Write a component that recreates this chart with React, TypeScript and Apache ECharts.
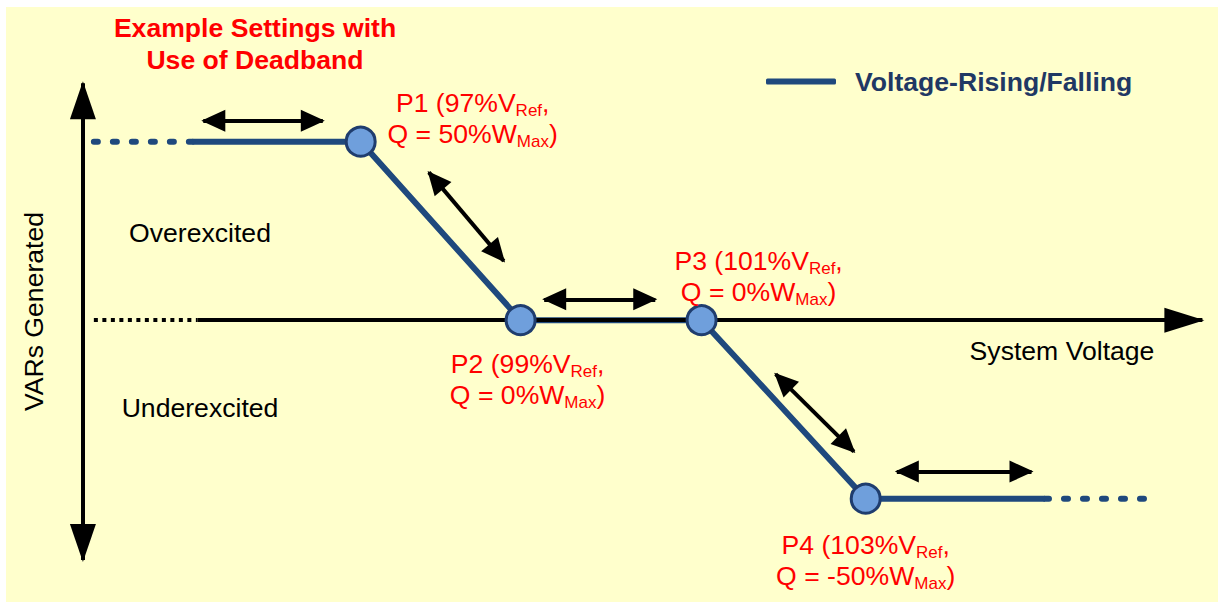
import React, { useEffect, useRef } from 'react';
import * as echarts from 'echarts';

// ---------- data ----------
// Volt-var curve points
const pointNames = ['P1', 'P2', 'P3', 'P4'];
const pointVRef = [97, 99, 101, 103]; // % VRef as labelled
const pointX = [97, 98.9, 101.05, 103]; // position along the voltage axis as drawn
const pointQ = [50, 0, 0, -50]; // Q in % WMax

// curve extensions (voltage positions)
const leadDashX = [93.83, 95.0];
const tailSolidEndX = 105.13;
const tailDashEndX = 106.42;

// axes (in chart units)
const xAxisDottedX = [93.83, 95.06];
const xAxisSolidX = [95.06, 107.0];
const yAxisX = 93.7;
const yAxisTipsY = [66.4, -67.2];

// dead-band double arrows: [from, to]
const deadbandArrows: number[][][] = [
  [[95.13, 55.9], [96.55, 55.9]],
  [[97.81, 41.4], [98.7, 16.6]],
  [[99.18, 5.85], [100.5, 5.85]],
  [[101.93, -15.1], [102.86, -36.8]],
  [[103.37, -42.4], [104.97, -42.4]],
];

const legendName = 'Voltage-Rising/Falling';

// ---------- styles ----------
const FONT = '"Liberation Sans", Arial, Helvetica, sans-serif';
const FS = 26.6;
const CURVE = '#1F497D';
const MARKER_FILL = '#6F9FDC';
const MARKER_BORDER = '#1F3D6E';
const RED = '#FF0000';
const LABEL_OFFSETS = [
  [112, -23],
  [7, 59],
  [57, -43.5],
  [0, 62],
];

const arrowEnd = (coord: number[], size: number[]) => ({
  coord,
  symbol: 'triangle',
  symbolSize: size,
  symbolOffset: [0, size[1] / 2 - 2],
});
const plainEnd = (coord: number[]) => ({ coord, symbol: 'none' });

function buildOption() {
  const solidData: number[][] = [[leadDashX[1], pointQ[0]]];
  pointX.forEach((x, i) => solidData.push([x, pointQ[i]]));
  solidData.push([tailSolidEndX, pointQ[pointQ.length - 1]]);

  const leadDash = [
    [leadDashX[0], pointQ[0]],
    [leadDashX[1], pointQ[0]],
  ];
  const tailDash = [
    [tailSolidEndX, pointQ[pointQ.length - 1]],
    [tailDashEndX, pointQ[pointQ.length - 1]],
  ];

  const labelText = (i: number) =>
    `{n|${pointNames[i]} (${pointVRef[i]}%V}{s|Ref}{n|,}\n{n|Q = ${pointQ[i]}%W}{s|Max}{n|)}`;

  const pointData = pointX.map((x, i) => ({
    value: [x, pointQ[i]],
    label: {
      show: true,
      position: 'inside',
      offset: LABEL_OFFSETS[i],
      align: 'center',
      verticalAlign: 'middle',
      formatter: labelText(i),
      rich: {
        n: { fontSize: FS, color: RED, fontFamily: FONT, lineHeight: 31 },
        s: { fontSize: 17, color: RED, fontFamily: FONT, lineHeight: 14, padding: [15, 0, 0, 0] },
      },
    },
  }));

  const axisStyle = { color: '#000', width: 4, type: 'solid' };
  const markLineData: any[] = [
    [
      { ...plainEnd([xAxisDottedX[0], 0]), lineStyle: { color: '#000', width: 4, type: [4, 4.5] } },
      plainEnd([xAxisDottedX[1], 0]),
    ],
    [
      { ...plainEnd([xAxisSolidX[0], 0]), lineStyle: axisStyle },
      arrowEnd([xAxisSolidX[1], 0], [25, 40]),
    ],
    [
      { ...arrowEnd([yAxisX, yAxisTipsY[0]], [26, 38]), lineStyle: axisStyle },
      arrowEnd([yAxisX, yAxisTipsY[1]], [26, 38]),
    ],
    ...deadbandArrows.map((a) => [
      { ...arrowEnd(a[0], [22, 24]), lineStyle: { color: '#000', width: 4, type: 'solid' } },
      arrowEnd(a[1], [22, 24]),
    ]),
  ];

  return {
    animation: false,
    textStyle: { fontFamily: FONT },
    grid: { left: 24, right: 15.62, top: 34.6, bottom: 31.9 },
    xAxis: { type: 'value', min: 93, max: 107, show: false },
    yAxis: { type: 'value', min: -70, max: 80, show: false },
    legend: {
      data: [{ name: legendName, icon: 'roundRect' }],
      left: 766,
      top: 68,
      padding: 0,
      itemWidth: 70,
      itemHeight: 6,
      selectedMode: false,
      textStyle: {
        fontSize: FS,
        fontWeight: 'bold',
        color: '#1F3864',
        fontFamily: FONT,
        padding: [0, 0, 0, 14],
      },
    },
    graphic: [
      {
        type: 'rect',
        z: -10,
        silent: true,
        shape: { x: 6, y: 7, width: 1212, height: 595 },
        style: { fill: '#FFFFCC' },
      },
      {
        type: 'text',
        z: 10,
        x: 255,
        y: 44.2,
        style: {
          text: 'Example Settings with\nUse of Deadband',
          fill: RED,
          font: `bold ${FS}px ${FONT}`,
          lineHeight: 31.7,
          align: 'center',
          verticalAlign: 'middle',
        },
      },
      {
        type: 'text',
        z: 10,
        x: 200,
        y: 233,
        style: { text: 'Overexcited', fill: '#000', font: `${FS}px ${FONT}`, align: 'center', verticalAlign: 'middle' },
      },
      {
        type: 'text',
        z: 10,
        x: 200,
        y: 408,
        style: { text: 'Underexcited', fill: '#000', font: `${FS}px ${FONT}`, align: 'center', verticalAlign: 'middle' },
      },
      {
        type: 'text',
        z: 10,
        x: 1062,
        y: 351,
        style: { text: 'System Voltage', fill: '#000', font: `${FS}px ${FONT}`, align: 'center', verticalAlign: 'middle' },
      },
      {
        type: 'text',
        z: 10,
        x: 34,
        y: 311.5,
        rotation: Math.PI / 2,
        style: { text: 'VARs Generated', fill: '#000', font: `${FS}px ${FONT}`, align: 'center', verticalAlign: 'middle' },
      },
    ],
    series: [
      {
        type: 'line',
        name: 'axes',
        data: [],
        silent: true,
        z: 2,
        markLine: {
          silent: true,
          animation: false,
          label: { show: false },
          emphasis: { disabled: true },
          lineStyle: { color: '#000', width: 4, type: 'solid' },
          data: markLineData,
        },
      },
      {
        type: 'line',
        name: legendName,
        data: solidData,
        symbol: 'none',
        silent: true,
        z: 3,
        itemStyle: { color: CURVE },
        lineStyle: { color: CURVE, width: 6, join: 'round' },
      },
      {
        type: 'line',
        name: 'leadDash',
        data: leadDash,
        symbol: 'none',
        silent: true,
        z: 3,
        lineStyle: { color: CURVE, width: 6, type: [4, 15], cap: 'round' },
      },
      {
        type: 'line',
        name: 'tailDash',
        data: tailDash,
        symbol: 'none',
        silent: true,
        z: 3,
        lineStyle: { color: CURVE, width: 6, type: [4, 15], cap: 'round' },
      },
      {
        type: 'scatter',
        name: 'points',
        data: pointData,
        symbol: 'circle',
        symbolSize: 29,
        silent: true,
        z: 5,
        itemStyle: { color: MARKER_FILL, borderColor: MARKER_BORDER, borderWidth: 3, opacity: 1 },
        emphasis: { disabled: true },
      },
    ],
  };
}

export default function App() {
  const ref = useRef<HTMLDivElement>(null);
  useEffect(() => {
    if (!ref.current) return;
    const chart = echarts.init(ref.current, undefined, { renderer: 'svg' });
    chart.setOption(buildOption() as any);
    return () => chart.dispose();
  }, []);
  return (
    <div
      ref={ref}
      style={{ position: 'absolute', left: 0, top: 0, width: 1218, height: 602, background: '#fff' }}
    />
  );
}
